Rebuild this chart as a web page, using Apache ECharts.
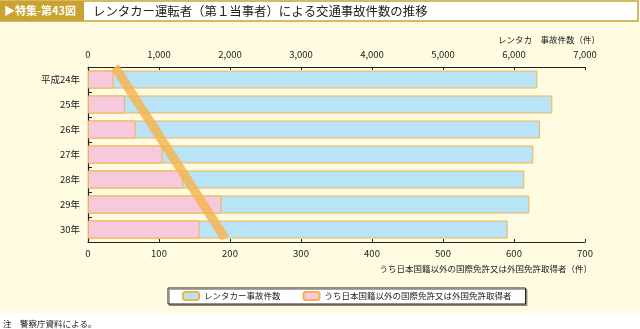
<!DOCTYPE html>
<html>
<head>
<meta charset="utf-8">
<script src="https://cdn.jsdelivr.net/npm/echarts@6/dist/echarts.min.js"></script>
<style>
  html, body { margin: 0; padding: 0; background: #ffffff; }
  #chart { width: 640px; height: 329px; }
</style>
</head>
<body>
<div id="chart"></div>
<script>
// Years (Heisei era)
const years = ['平成24年', '25年', '26年', '27年', '28年', '29年', '30年'];
// Traffic accidents caused by rental-car drivers (top axis, 件)
const rentalAccidents = [6328, 6540, 6366, 6272, 6145, 6216, 5911];
// Of which: drivers with an international or foreign licence (bottom axis, 件)
const foreignLicence = [36, 52, 67, 105, 134, 188, 157];
// Trend arrow endpoints: [bottom-axis value, row position 0..7]
const trendLine = [[38, 0], [193, 6.85]];
// Axis tick values
const topTicks = [0, 1000, 2000, 3000, 4000, 5000, 6000, 7000];
const bottomTicks = [0, 100, 200, 300, 400, 500, 600, 700];

const FONT = '"Noto Sans CJK JP", "Noto Sans", sans-serif';
const INK = '#222222';
const EDGE = '#f2b24e';

const chart = echarts.init(document.getElementById('chart'), null, { renderer: 'canvas' });

const fmt = v => v.toLocaleString('en-US');

chart.setOption({
  backgroundColor: '#ffffff',
  animation: false,
  textStyle: { fontFamily: FONT },
  graphic: [
    // chart panel
    { type: 'rect', z: -10, shape: { x: 0, y: 22, width: 640, height: 291 }, style: { fill: '#fffbe0' } },
    // header
    { type: 'rect', shape: { x: 0, y: 1, width: 638, height: 20 }, style: { fill: '#ffffff', stroke: '#c9a230', lineWidth: 1.5 } },
    { type: 'rect', shape: { x: 0, y: 1, width: 84, height: 20 }, style: { fill: '#c9a230' } },
    { type: 'text', x: 4, y: 11, style: { text: '▶特集-第43図', fill: '#ffffff', font: 'bold 11px ' + FONT, verticalAlign: 'middle' } },
    { type: 'text', x: 93, y: 11, style: { text: 'レンタカー運転者（第１当事者）による交通事故件数の推移', fill: INK, font: '12.4px ' + FONT, verticalAlign: 'middle' } },
    // axis titles
    { type: 'text', x: 600, y: 40, style: { text: 'レンタカ　事故件数（件）', fill: INK, font: '8.5px ' + FONT, align: 'right', verticalAlign: 'middle' } },
    { type: 'text', x: 592, y: 269, style: { text: 'うち日本国籍以外の国際免許又は外国免許取得者（件）', fill: INK, font: '8.5px ' + FONT, align: 'right', verticalAlign: 'middle' } },
    // note
    { type: 'text', x: 3, y: 324, style: { text: '注　警察庁資料による。', fill: INK, font: '8.5px ' + FONT, verticalAlign: 'middle' } }
  ],
  grid: { left: 88, right: 55, top: 67, bottom: 87, containLabel: false },
  legend: {
    left: 168, top: 288,
    width: 349,
    padding: [3, 14, 3, 14],
    itemGap: 22,
    itemWidth: 16, itemHeight: 8,
    backgroundColor: '#ffffff',
    borderColor: '#222222', borderWidth: 1,
    shadowColor: 'rgba(0,0,0,0.35)', shadowOffsetX: 1.5, shadowOffsetY: 1.5, shadowBlur: 0,
    data: ['レンタカー事故件数', 'うち日本国籍以外の国際免許又は外国免許取得者'],
    textStyle: { fontSize: 8.5, color: INK, fontFamily: FONT }
  },
  xAxis: [
    {
      type: 'value', position: 'top', min: 0, max: 7000, interval: 1000,
      axisLine: { show: true, lineStyle: { color: INK, width: 1 } },
      axisTick: { show: true, inside: true, length: 3, lineStyle: { color: INK } },
      axisLabel: { margin: 8, fontSize: 9.5, color: INK, formatter: v => topTicks.includes(v) ? fmt(v) : '' },
      splitLine: { show: false }
    },
    {
      type: 'value', position: 'bottom', min: 0, max: 700, interval: 100,
      axisLine: { show: true, lineStyle: { color: INK, width: 1 } },
      axisTick: { show: true, inside: true, length: 3, lineStyle: { color: INK } },
      axisLabel: { margin: 7, fontSize: 9.5, color: INK, formatter: v => bottomTicks.includes(v) ? String(v) : '' },
      splitLine: { show: false }
    }
  ],
  yAxis: [
    {
      type: 'category', data: years, inverse: true,
      axisLine: { show: true, lineStyle: { color: INK, width: 1.2 } },
      axisTick: { show: true, inside: true, length: 4, lineStyle: { color: INK } },
      axisLabel: { margin: 8, fontSize: 9.5, color: INK },
      splitLine: { show: false }
    },
    { type: 'value', min: 0, max: 7, inverse: true, show: false }
  ],
  series: [
    {
      name: 'レンタカー事故件数', type: 'bar', xAxisIndex: 0, yAxisIndex: 0,
      data: rentalAccidents, barWidth: 18, barGap: '-100%',
      itemStyle: { color: '#b9e3f7', borderColor: EDGE, borderWidth: 1 },
      z: 2
    },
    {
      name: 'うち日本国籍以外の国際免許又は外国免許取得者', type: 'bar', xAxisIndex: 1, yAxisIndex: 0,
      data: foreignLicence, barWidth: 18, barGap: '-100%',
      itemStyle: { color: '#f7c9dd', borderColor: EDGE, borderWidth: 1 },
      z: 3
    },
    {
      name: 'trend', type: 'line', xAxisIndex: 1, yAxisIndex: 1,
      data: trendLine, symbol: 'none', silent: true,
      lineStyle: { color: '#f5b552', width: 9, opacity: 0.85, cap: 'butt' },
      z: 5
    }
  ]
});
</script>
</body>
</html>
